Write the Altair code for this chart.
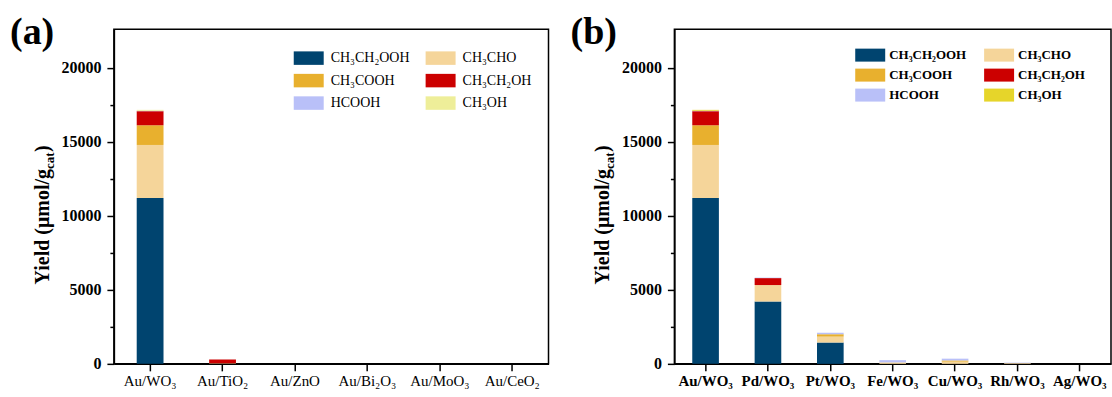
import altair as alt
import pandas as pd

FONT = "Liberation Serif"

products = ["CH₃CH₂OOH", "CH₃CHO", "CH₃COOH", "CH₃CH₂OH", "HCOOH", "CH₃OH"]
colors_a = ["#00446F", "#F5D59A", "#E8B02E", "#CC0000", "#B9C0F8", "#EEEE99"]
colors_b = ["#00446F", "#F5D59A", "#E8B02E", "#CC0000", "#B9C0F8", "#E6D52A"]

cats_a = ["Au/WO₃", "Au/TiO₂", "Au/ZnO", "Au/Bi₂O₃", "Au/MoO₃", "Au/CeO₂"]
a_ch3ch2ooh = [11200, 0, 0, 0, 0, 0]
a_ch3cho = [3580, 40, 0, 0, 0, 0]
a_ch3cooh = [1330, 0, 0, 0, 0, 0]
a_ch3ch2oh = [950, 260, 0, 0, 0, 0]
a_hcooh = [30, 0, 0, 0, 0, 0]
a_ch3oh = [60, 0, 0, 0, 0, 0]

cats_b = ["Au/WO₃", "Pd/WO₃", "Pt/WO₃", "Fe/WO₃", "Cu/WO₃", "Rh/WO₃", "Ag/WO₃"]
b_ch3ch2ooh = [11200, 4210, 1440, 0, 0, 0, 0]
b_ch3cho = [3580, 1110, 400, 100, 150, 50, 0]
b_ch3cooh = [1330, 0, 160, 0, 80, 0, 0]
b_ch3ch2oh = [950, 470, 0, 0, 0, 0, 0]
b_hcooh = [30, 30, 100, 150, 120, 30, 0]
b_ch3oh = [60, 0, 0, 0, 0, 0, 0]

y_ticks = [0, 2500, 5000, 7500, 10000, 12500, 15000, 17500, 20000]
Y_MAX = 22600
H = 335

# legend is laid out column-major: reorder so rows read as in the original
LEGEND_IDX = [0, 2, 4, 1, 3, 5]


def long_df(cats, series):
    rows = []
    for i, (p, vals) in enumerate(zip(products, series)):
        for c, v in zip(cats, vals):
            rows.append({"cat": c, "product": p, "value": v, "idx": i})
    return pd.DataFrame(rows)


def text_layer(txt, x, y, size, angle=0, align="left", weight="bold"):
    return alt.Chart(alt.Data(values=[{"k": 0}])).mark_text(
        text=txt, font=FONT, fontSize=size, fontWeight=weight, angle=angle,
        align=align, baseline="alphabetic", color="black"
    ).encode(x=alt.value(x), y=alt.value(y))


def panel(cats, series, colors, width, pad_inner, label, xweight, lweight, lx, ly, lrow,
          loff, lcolpad, lsize, sym_path, sym_size):
    df = long_df(cats, series)
    dom = [products[i] for i in LEGEND_IDX]
    rng = [colors[i] for i in LEGEND_IDX]
    bars = alt.Chart(df).mark_bar().encode(
        x=alt.X("cat:N", sort=cats,
                scale=alt.Scale(paddingInner=pad_inner, paddingOuter=pad_inner / 2),
                axis=alt.Axis(title=None, labelAngle=0, labelFont=FONT, labelFontSize=15,
                              labelFontWeight=xweight, labelColor="black", tickSize=7,
                              tickWidth=1.5, tickColor="black", domainColor="black",
                              domainWidth=1.5, labelPadding=3, grid=False)),
        y=alt.Y("value:Q", stack="zero",
                scale=alt.Scale(domain=[0, Y_MAX], nice=False, zero=True),
                axis=alt.Axis(title=None, values=y_ticks, format="d",
                              labelExpr="datum.value % 5000 === 0 ? datum.label : ''",
                              tickSize={"condition": {"test": "datum.value % 5000 === 0", "value": 7}, "value": 4},
                              tickWidth=1.5, tickColor="black", domainColor="black", domainWidth=1.5,
                              labelFont=FONT, labelFontSize=16, labelFontWeight="bold",
                              labelColor="black", labelPadding=6, grid=False)),
        color=alt.Color("product:N", sort=dom,
                        scale=alt.Scale(domain=dom, range=rng),
                        legend=alt.Legend(title=None, orient="none", legendX=lx, legendY=ly,
                                          columns=2, symbolType=sym_path,
                                          symbolSize=sym_size, symbolStrokeWidth=0, symbolOpacity=1,
                                          labelFont=FONT, labelFontSize=lsize, labelFontWeight=lweight,
                                          labelColor="black", labelOffset=loff,
                                          columnPadding=lcolpad, rowPadding=lrow)),
        order=alt.Order("idx:Q", sort="ascending"),
    )
    layers = [
        bars,
        text_layer(label, -104, 15, 38),
        text_layer("Yield (μmol/g", -65, 140, 20, angle=270, align="right"),
        text_layer("cat", -60, 140, 13, angle=270, align="left"),
        text_layer(")", -65, 123, 20, angle=270, align="left"),
    ]
    return alt.layer(*layers).properties(width=width, height=H)


pa = panel(cats_a, [a_ch3ch2ooh, a_ch3cho, a_ch3cooh, a_ch3ch2oh, a_hcooh, a_ch3oh],
           colors_a, 435, 0.63, "(a)", "normal", "normal", 180, 14, 0.5, 7, 16, 14,
           "M-1,-0.45H1V0.45H-1Z", 900)
pb = panel(cats_b, [b_ch3ch2ooh, b_ch3cho, b_ch3cooh, b_ch3ch2oh, b_hcooh, b_ch3oh],
           colors_b, 437, 0.573, "(b)", "bold", "bold", 186, 16, 3, 9, 17, 13,
           "M-1.5,-0.65H1.5V0.65H-1.5Z", 400)

chart = alt.hconcat(pa, pb, spacing=20).resolve_scale(
    color="independent", x="independent", y="independent"
).properties(
    padding={"left": 9, "top": 13, "right": 0, "bottom": 0},
    background="white",
).configure_view(stroke="black", strokeWidth=1.5)

chart.save("out.html", embed_options={"renderer": "svg", "actions": False})
